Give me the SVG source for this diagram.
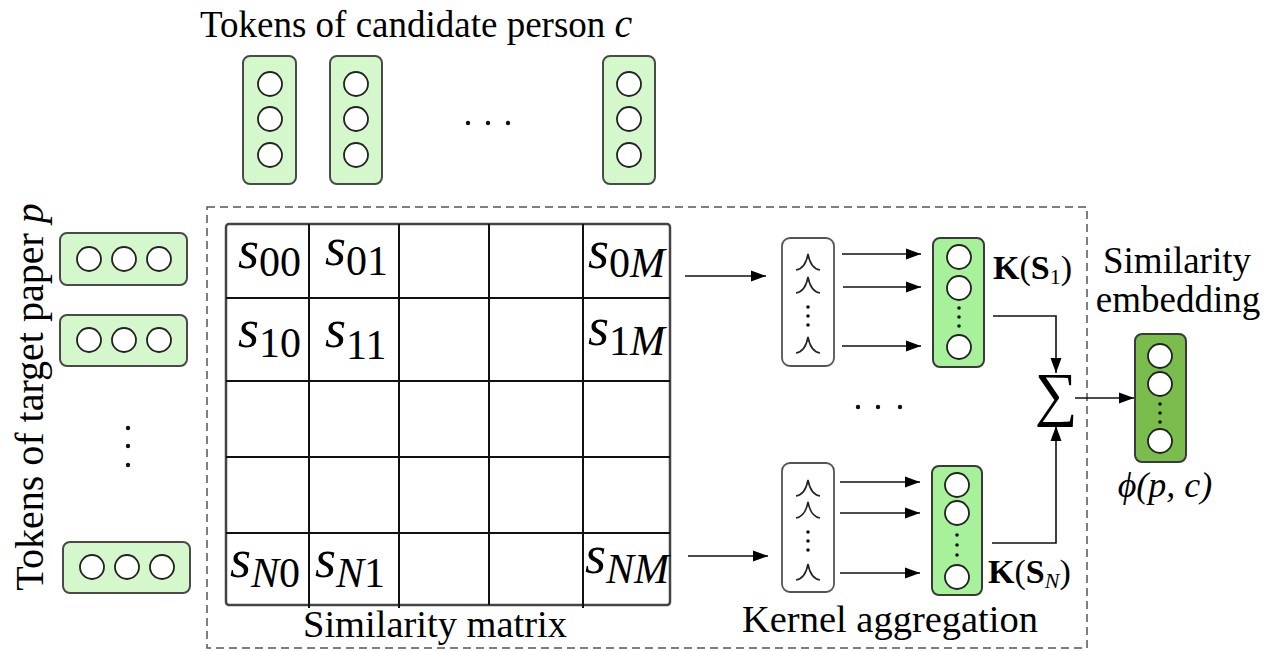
<svg xmlns="http://www.w3.org/2000/svg" width="1268" height="651" viewBox="0 0 1268 651">
<style>
text{font-family:"Liberation Serif",Tinos,"Times New Roman",Times,"Noto Serif","DejaVu Serif","Nimbus Roman","Nimbus Roman No9 L",FreeSerif,"Noto Serif CJK SC",serif;fill:#000}
.it{font-style:italic}
.bf{font-weight:bold}
.tok{fill:#d4f8cb;stroke:#4a4a4a;stroke-width:2}
.kout{fill:#a6f19a;stroke:#3a3a3a;stroke-width:2}
.emb{fill:#7abd4d;stroke:#3a3a3a;stroke-width:2}
.cir{fill:#fff;stroke:#222;stroke-width:1.8}
.dot{fill:#111}
.kbox{fill:#fff;stroke:#555;stroke-width:1.8}
.bump{fill:none;stroke:#222;stroke-width:1.6}
.grid{stroke:#111;stroke-width:2}
.conn{fill:none;stroke:#111;stroke-width:1.6}
</style>
<defs>
<marker id="ah" markerUnits="userSpaceOnUse" markerWidth="16" markerHeight="12" refX="15" refY="6" orient="auto">
<path d="M0,0.5 L15,6 L0,11.5 z" fill="#000"/>
</marker>
<path id="bump" d="M-12,8 C-6,7 -2,3 0,-8 C2,3 6,7 12,8"/>
</defs>

<rect x="207" y="207" width="880" height="441" fill="none" stroke="#555" stroke-width="1.5" stroke-dasharray="8,5"/>

<text x="200" y="37" font-size="37">Tokens of candidate person <tspan class="it" font-size="40">c</tspan></text>
<text transform="translate(43,397) rotate(-90)" text-anchor="middle" font-size="40">Tokens of target paper <tspan class="it">p</tspan></text>

<g id="ctok1"><rect class="tok" x="243" y="56" width="53" height="128" rx="7"/><circle class="cir" cx="270" cy="84" r="12"/><circle class="cir" cx="270" cy="119" r="12"/><circle class="cir" cx="270" cy="155" r="12"/></g>
<g id="ctok2"><rect class="tok" x="330" y="56" width="52" height="128" rx="7"/><circle class="cir" cx="356" cy="84" r="12"/><circle class="cir" cx="356" cy="119" r="12"/><circle class="cir" cx="356" cy="155" r="12"/></g>
<g id="cdots"><circle class="dot" cx="468" cy="123" r="2.2"/><circle class="dot" cx="488" cy="123" r="2.2"/><circle class="dot" cx="508" cy="123" r="2.2"/></g>
<g id="ctok3"><rect class="tok" x="603" y="56" width="52" height="128" rx="7"/><circle class="cir" cx="629" cy="84" r="12"/><circle class="cir" cx="629" cy="119" r="12"/><circle class="cir" cx="629" cy="155" r="12"/></g>

<g id="ptok1"><rect class="tok" x="60" y="233" width="127" height="52" rx="7"/><circle class="cir" cx="89" cy="259" r="12"/><circle class="cir" cx="124" cy="259" r="12"/><circle class="cir" cx="159" cy="259" r="12"/></g>
<g id="ptok2"><rect class="tok" x="60" y="315" width="127" height="51" rx="7"/><circle class="cir" cx="89" cy="340" r="12"/><circle class="cir" cx="124" cy="340" r="12"/><circle class="cir" cx="159" cy="340" r="12"/></g>
<g id="pdots"><circle class="dot" cx="128" cy="428" r="2.2"/><circle class="dot" cx="128" cy="446" r="2.2"/><circle class="dot" cx="128" cy="465" r="2.2"/></g>
<g id="ptok3"><rect class="tok" x="63" y="542" width="127" height="51" rx="7"/><circle class="cir" cx="92" cy="567" r="12"/><circle class="cir" cx="127" cy="567" r="12"/><circle class="cir" cx="162" cy="567" r="12"/></g>

<g id="matrix">
<rect x="226" y="224" width="444" height="381" rx="3" fill="#fff" stroke="#444" stroke-width="2.5"/>
<line class="grid" x1="309" y1="224" x2="309" y2="608"/>
<line class="grid" x1="399" y1="224" x2="399" y2="608"/>
<line class="grid" x1="489" y1="224" x2="489" y2="605"/>
<line class="grid" x1="583" y1="224" x2="583" y2="608"/>
<line class="grid" x1="226" y1="298" x2="670" y2="298"/>
<line class="grid" x1="226" y1="381" x2="670" y2="381"/>
<line class="grid" x1="226" y1="457" x2="670" y2="457"/>
<line class="grid" x1="226" y1="533" x2="670" y2="533"/>
<text x="238" y="268" font-size="54"><tspan class="it">s</tspan><tspan font-size="42" dy="8">00</tspan></text>
<text x="325" y="265" font-size="54"><tspan class="it">s</tspan><tspan font-size="42" dy="10">01</tspan></text>
<text x="588" y="268" font-size="54"><tspan class="it">s</tspan><tspan font-size="42" dy="9">0<tspan class="it">M</tspan></tspan></text>
<text x="238" y="347" font-size="54"><tspan class="it">s</tspan><tspan font-size="42" dy="10">10</tspan></text>
<text x="325" y="347" font-size="54"><tspan class="it">s</tspan><tspan font-size="42" dy="12">11</tspan></text>
<text x="588" y="345" font-size="54"><tspan class="it">s</tspan><tspan font-size="42" dy="10">1<tspan class="it">M</tspan></tspan></text>
<text x="230" y="577" font-size="54"><tspan class="it">s</tspan><tspan font-size="42" dy="10"><tspan class="it">N</tspan>0</tspan></text>
<text x="315" y="577" font-size="54"><tspan class="it">s</tspan><tspan font-size="42" dy="10"><tspan class="it">N</tspan>1</tspan></text>
<text x="585" y="573" font-size="54"><tspan class="it">s</tspan><tspan font-size="42" dy="10" class="it">NM</tspan></text>
</g>
<text x="303" y="637" font-size="37" textLength="264" lengthAdjust="spacingAndGlyphs">Similarity matrix</text>

<g id="kernel1">
<rect class="kbox" x="782" y="238" width="52" height="128" rx="8"/>
<use href="#bump" class="bump" x="808" y="262"/>
<use href="#bump" class="bump" x="808" y="285"/>
<circle class="dot" cx="808" cy="307" r="1.8"/><circle class="dot" cx="808" cy="316" r="1.8"/><circle class="dot" cx="808" cy="325" r="1.8"/>
<use href="#bump" class="bump" x="808" y="345"/>
</g>
<g id="kernel2">
<rect class="kbox" x="782" y="463" width="52" height="129" rx="8"/>
<use href="#bump" class="bump" x="808" y="488"/>
<use href="#bump" class="bump" x="808" y="510"/>
<circle class="dot" cx="808" cy="532" r="1.8"/><circle class="dot" cx="808" cy="541" r="1.8"/><circle class="dot" cx="808" cy="550" r="1.8"/>
<use href="#bump" class="bump" x="808" y="572"/>
</g>

<g id="kout1">
<rect class="kout" x="933" y="238" width="51" height="129" rx="7"/>
<circle class="cir" cx="959" cy="257" r="12"/><circle class="cir" cx="959" cy="288" r="12"/>
<circle class="dot" cx="959" cy="308" r="1.8"/><circle class="dot" cx="959" cy="317" r="1.8"/><circle class="dot" cx="959" cy="326" r="1.8"/>
<circle class="cir" cx="959" cy="347" r="12"/>
</g>
<g id="kout2">
<rect class="kout" x="932" y="466" width="50" height="129" rx="7"/>
<circle class="cir" cx="957" cy="485" r="12"/><circle class="cir" cx="957" cy="513" r="12"/>
<circle class="dot" cx="957" cy="535" r="1.8"/><circle class="dot" cx="957" cy="545" r="1.8"/><circle class="dot" cx="957" cy="555" r="1.8"/>
<circle class="cir" cx="957" cy="577" r="12"/>
</g>
<text x="993" y="279" font-size="34"><tspan class="bf">K</tspan>(<tspan class="bf">S</tspan><tspan font-size="22" dy="5">1</tspan><tspan dy="-5">)</tspan></text>
<text x="988" y="583" font-size="34"><tspan class="bf">K</tspan>(<tspan class="bf">S</tspan><tspan font-size="22" dy="5" class="it">N</tspan><tspan dy="-5">)</tspan></text>

<g id="kdots"><circle class="dot" cx="858" cy="407" r="2.2"/><circle class="dot" cx="878" cy="407" r="2.2"/><circle class="dot" cx="900" cy="407" r="2.2"/></g>

<g id="sum"><text x="1056" y="414" font-size="60" text-anchor="middle">∑</text></g>

<g id="embedding">
<rect class="emb" x="1135" y="334" width="51" height="128" rx="7"/>
<circle class="cir" cx="1160" cy="356" r="12"/><circle class="cir" cx="1160" cy="384" r="12"/>
<circle class="dot" cx="1160" cy="404" r="1.8"/><circle class="dot" cx="1160" cy="413" r="1.8"/><circle class="dot" cx="1160" cy="422" r="1.8"/>
<circle class="cir" cx="1160" cy="441" r="12"/>
</g>
<text x="1177" y="273" font-size="37" text-anchor="middle">Similarity</text>
<text x="1178" y="312" font-size="37" text-anchor="middle">embedding</text>
<text class="it" x="1165" y="497" font-size="36" text-anchor="middle">ϕ(p, c)</text>

<text x="742" y="632" font-size="37" textLength="296" lengthAdjust="spacingAndGlyphs">Kernel aggregation</text>

<g id="connectors">
<line class="conn" x1="685" y1="276" x2="766" y2="276" marker-end="url(#ah)"/>
<line class="conn" x1="688" y1="556" x2="768" y2="556" marker-end="url(#ah)"/>
<line class="conn" x1="842" y1="254" x2="921" y2="254" marker-end="url(#ah)"/>
<line class="conn" x1="843" y1="287" x2="921" y2="287" marker-end="url(#ah)"/>
<line class="conn" x1="842" y1="346" x2="921" y2="346" marker-end="url(#ah)"/>
<line class="conn" x1="840" y1="482" x2="920" y2="482" marker-end="url(#ah)"/>
<line class="conn" x1="840" y1="513" x2="920" y2="513" marker-end="url(#ah)"/>
<line class="conn" x1="840" y1="573" x2="920" y2="573" marker-end="url(#ah)"/>
<path class="conn" d="M993,316 H1056 V373" marker-end="url(#ah)"/>
<path class="conn" d="M992,543 H1056 V426" marker-end="url(#ah)"/>
<line class="conn" x1="1075" y1="398" x2="1134" y2="398" marker-end="url(#ah)"/>
</g>
</svg>
